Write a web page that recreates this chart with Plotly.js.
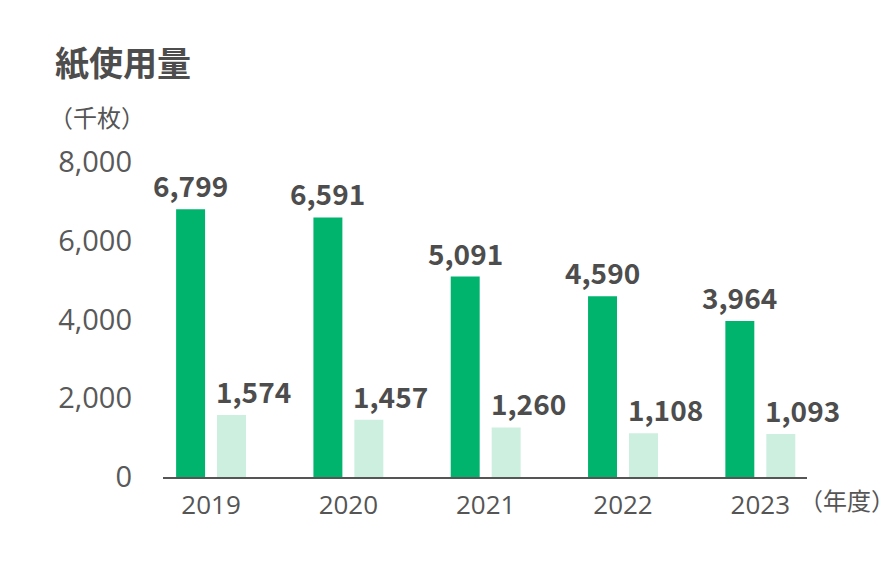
<!DOCTYPE html>
<html><head><meta charset="utf-8">
<script src="https://cdn.plot.ly/plotly-3.0.1.min.js"></script>
<style>body{margin:0;background:#fff}#c{width:896px;height:563px}</style>
</head><body><div id="c"></div>
<script>
const years = ['2019','2020','2021','2022','2023'];
const seriesA = [6799, 6591, 5091, 4590, 3964];
const seriesB = [1574, 1457, 1260, 1108, 1093];
const yTicks = [0, 2000, 4000, 6000, 8000];
const yTickText = ['0', '2,000', '4,000', '6,000', '8,000'];

const px = 137.5; // pixels per category
const bw = 29 / px;
const offA = -35 / px;
const offB = 6 / px;
const fmt = v => v.toLocaleString('en-US');
const idx = years.map((_, i) => i);

const traces = [
  {type:'bar', x: idx, y: seriesA, width: bw, offset: offA, marker:{color:'#00b46e'}, hoverinfo:'none'},
  {type:'bar', x: idx, y: seriesB, width: bw, offset: offB, marker:{color:'#ccefdf'}, hoverinfo:'none'}
];
const lblFont = {size:28, color:'#4d4d4d', family:'Noto Sans CJK JP', weight:'bold'};
const ann = [];
idx.forEach(i => {
  ann.push({x: i + offA + bw/2, y: seriesA[i], xref:'x', yref:'y', text: fmt(seriesA[i]), showarrow:false,
    xanchor:'center', yanchor:'bottom', yshift:2, font:lblFont});
  ann.push({x: i + offB, y: seriesB[i], xref:'x', yref:'y', text: fmt(seriesB[i]), showarrow:false,
    xanchor:'left', yanchor:'bottom', yshift:2, xshift:-3, font:lblFont});
});
ann.push({xref:'paper', yref:'paper', x:-0.171, y:1.32, text:'紙使用量', showarrow:false, xanchor:'left', yanchor:'middle',
  font:{size:34, color:'#4d4d4d', family:'Noto Sans CJK JP', weight:'bold'}});
ann.push({xref:'paper', yref:'paper', x:-0.18, y:1.145, text:'（千枚）', showarrow:false, xanchor:'left', yanchor:'middle',
  font:{size:24, color:'#555', family:'Noto Sans CJK JP'}});
ann.push({xref:'paper', yref:'paper', x:0.984, y:-0.07, text:'（年度）', showarrow:false, xanchor:'left', yanchor:'middle',
  font:{size:24, color:'#555', family:'Noto Sans CJK JP'}});

const layout = {
  width:896, height:563,
  margin:{l:163, r:89, t:162, b:86},
  paper_bgcolor:'#fff', plot_bgcolor:'#fff',
  barmode:'overlay', showlegend:false,
  font:{family:'Open Sans', color:'#555'},
  xaxis:{range:[-0.35, 4.34], tickvals: idx, ticktext: years, showgrid:false, zeroline:false,
    showline:true, linecolor:'#555', linewidth:2, ticks:'', tickfont:{size:26, color:'#555', family:'Open Sans'}, ticklabelstandoff:4},
  yaxis:{range:[0, 8000], tickvals: yTicks, ticktext: yTickText, showgrid:false, zeroline:false, showline:false,
    ticks:'', tickfont:{size:29, color:'#595959', family:'Open Sans'}, ticklabelstandoff:30},
  annotations: ann
};
Plotly.newPlot('c', traces, layout, {staticPlot:true, displayModeBar:false});
</script></body></html>
